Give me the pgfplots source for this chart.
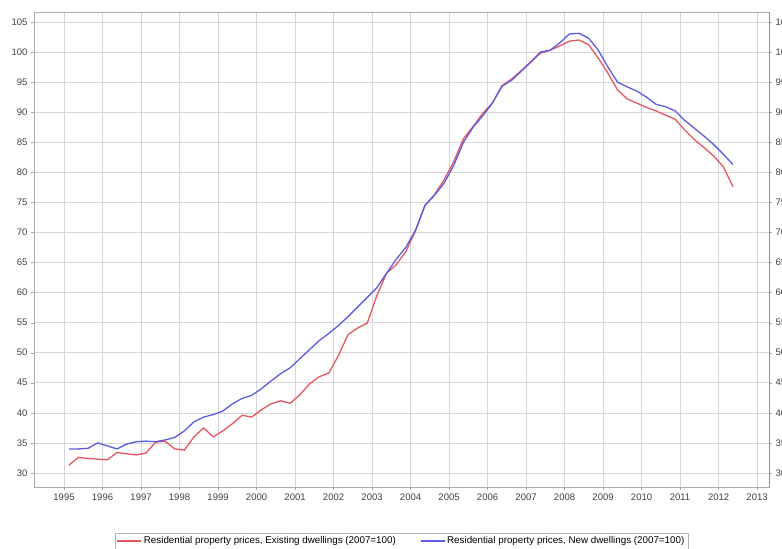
\documentclass[border=0pt]{standalone}
\usepackage{fontspec}
\setmainfont{Liberation Sans}
\usepackage{pgfplots}
\pgfplotsset{compat=1.18}
\usepackage{pgfplotstable}
\definecolor{cred}{RGB}{230,86,96}
\definecolor{cblue}{RGB}{92,92,226}
\definecolor{gridc}{RGB}{214,214,220}

\pgfplotstableread{
t v
1995.125 31.3
1995.375 32.6
1995.625 32.4
1995.875 32.3
1996.125 32.2
1996.375 33.4
1996.625 33.2
1996.875 33.0
1997.125 33.3
1997.375 35.1
1997.625 35.3
1997.875 34.0
1998.125 33.8
1998.375 36.0
1998.625 37.5
1998.875 36.0
1999.125 37.0
1999.375 38.2
1999.625 39.6
1999.875 39.3
2000.125 40.5
2000.375 41.5
2000.625 42.0
2000.875 41.6
2001.125 43.0
2001.375 44.8
2001.625 46.0
2001.875 46.6
2002.125 49.5
2002.375 53.0
2002.625 54.1
2002.875 54.9
2003.125 59.5
2003.375 63.2
2003.625 64.6
2003.875 66.8
2004.125 70.2
2004.375 74.5
2004.625 76.3
2004.875 78.8
2005.125 81.8
2005.375 85.6
2005.625 87.6
2005.875 89.8
2006.125 91.5
2006.375 94.4
2006.625 95.5
2006.875 96.9
2007.125 98.4
2007.375 99.8
2007.625 100.3
2007.875 101.0
2008.125 101.8
2008.375 102.0
2008.625 101.2
2008.875 99.0
2009.125 96.5
2009.375 93.7
2009.625 92.2
2009.875 91.5
2010.125 90.8
2010.375 90.2
2010.625 89.5
2010.875 88.8
2011.125 87.0
2011.375 85.4
2011.625 84.1
2011.875 82.7
2012.125 80.9
2012.375 77.6
}\existing

\pgfplotstableread{
t v
1995.125 34.0
1995.375 34.0
1995.625 34.1
1995.875 35.0
1996.125 34.5
1996.375 34.0
1996.625 34.8
1996.875 35.2
1997.125 35.3
1997.375 35.2
1997.625 35.5
1997.875 35.9
1998.125 37.0
1998.375 38.5
1998.625 39.3
1998.875 39.7
1999.125 40.3
1999.375 41.5
1999.625 42.4
1999.875 42.9
2000.125 44.0
2000.375 45.3
2000.625 46.5
2000.875 47.5
2001.125 49.0
2001.375 50.5
2001.625 52.0
2001.875 53.2
2002.125 54.5
2002.375 56.0
2002.625 57.6
2002.875 59.2
2003.125 60.8
2003.375 63.2
2003.625 65.5
2003.875 67.5
2004.125 70.3
2004.375 74.5
2004.625 76.2
2004.875 78.2
2005.125 81.2
2005.375 85.0
2005.625 87.5
2005.875 89.4
2006.125 91.5
2006.375 94.3
2006.625 95.3
2006.875 96.8
2007.125 98.3
2007.375 100.0
2007.625 100.3
2007.875 101.5
2008.125 103.0
2008.375 103.1
2008.625 102.3
2008.875 100.3
2009.125 97.5
2009.375 95.0
2009.625 94.2
2009.875 93.5
2010.125 92.5
2010.375 91.3
2010.625 90.9
2010.875 90.2
2011.125 88.6
2011.375 87.3
2011.625 86.0
2011.875 84.6
2012.125 83.0
2012.375 81.3
}\newdw

\begin{document}
\begin{tikzpicture}
\begin{axis}[
  name=main,
  scale only axis,
  width=735pt, height=475pt,
  xmin=1994.22, xmax=2013.31,
  ymin=27.67, ymax=106.65,
  xtick={1995,1996,...,2013},
  ytick={30,35,...,105},
  /pgf/number format/1000 sep={},
  /pgf/number format/assume math mode=true,
  ticklabel style={font=\fontsize{9.5}{11}\selectfont, text=black!75},
  tick align=outside,
  major tick length=3pt,
  tick style={gray!70},
  ytick pos=left,
  xtick pos=bottom,
  grid=major,
  major grid style={gridc, line width=0.6pt},
  axis line style={gray!65},
  legend style={at={(0.5,-0.097)}, anchor=north, legend columns=2,
    font=\fontsize{9.8}{11}\selectfont, draw=gray!60, inner sep=1.5pt,
    /tikz/every even column/.append style={column sep=22pt}},
  legend image code/.code={\draw[#1] (0pt,0pt) -- (24pt,0pt);},
]
\addplot[cred, line width=1.3pt] table[x=t, y=v] {\existing};
\addlegendentry{Residential property prices, Existing dwellings (2007=100)}
\addplot[cblue, line width=1.3pt] table[x=t, y=v] {\newdw};
\addlegendentry{Residential property prices, New dwellings (2007=100)}
\end{axis}
\begin{axis}[
  scale only axis,
  width=735pt, height=475pt,
  xmin=1994.22, xmax=2013.31,
  ymin=27.67, ymax=106.65,
  hide x axis,
  axis y line*=right,
  ytick={30,35,...,105},
  /pgf/number format/assume math mode=true,
  ticklabel style={font=\fontsize{9.5}{11}\selectfont, text=black!75},
  tick align=outside,
  major tick length=3pt,
  tick style={gray!70},
  axis line style={gray!85},
]
\end{axis}
\pgfresetboundingbox
\path[use as bounding box] ([shift={(-34pt,-62pt)}]main.south west) rectangle ([shift={(13pt,12pt)}]main.north east);
\end{tikzpicture}
\end{document}
